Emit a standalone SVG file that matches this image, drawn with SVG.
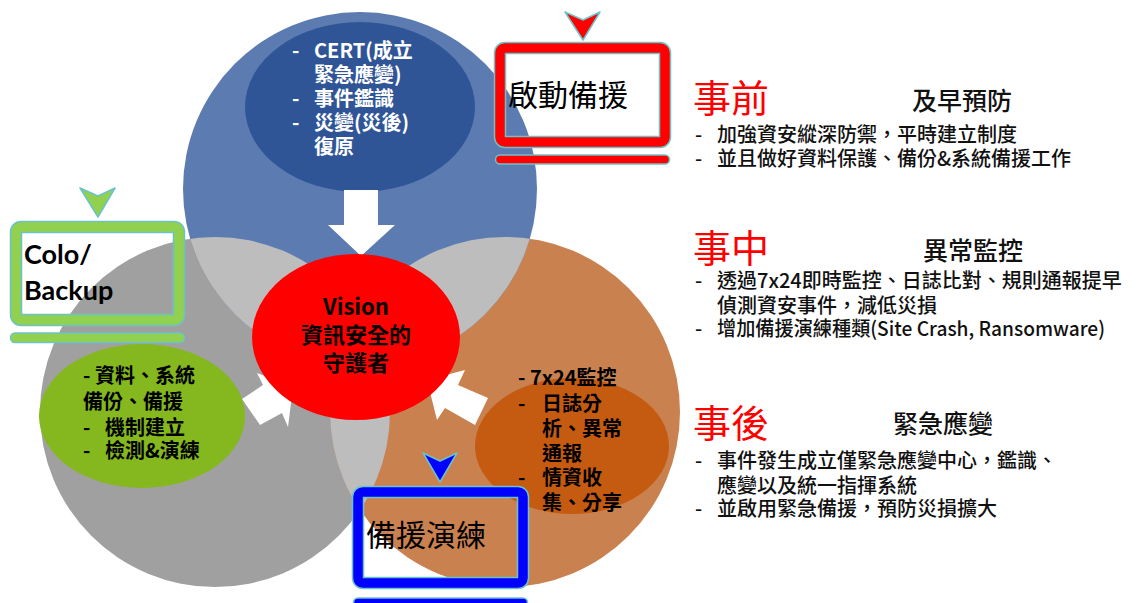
<svg xmlns="http://www.w3.org/2000/svg" width="1143" height="603" viewBox="0 0 1143 603" xml:lang="zh-TW" lang="zh-TW">
<style>
.cjk{font-family:"Noto Sans CJK TC","Noto Sans CJK SC",sans-serif;}
.et{font-family:"Noto Sans CJK TC","Noto Sans CJK SC",sans-serif;font-size:20px;font-weight:bold;}
.wt{fill:#ffffff;}
.bk{fill:#000000;}
.body{font-family:"Noto Sans CJK TC","Noto Sans CJK SC",sans-serif;font-size:20px;font-weight:500;fill:#111;}
.head{font-family:"Noto Sans CJK TC","Noto Sans CJK SC",sans-serif;font-size:38px;fill:#ff0000;}
.sub{font-family:"Noto Sans CJK TC","Noto Sans CJK SC",sans-serif;font-size:25px;font-weight:500;fill:#111;}
.frame-o{fill:none;stroke:#6cc3c6;stroke-width:12.5;}
.arrow{fill:#ffffff;}
.tri{stroke:#6cc3c6;stroke-width:1.5;stroke-linejoin:round;}
</style>
<defs>
<clipPath id="cBlue"><circle cx="360" cy="189" r="177"/></clipPath>
<clipPath id="cGrey"><circle cx="215" cy="412" r="175"/></clipPath>
</defs>
<rect x="0" y="0" width="1143" height="603" fill="#ffffff"/>
<g id="circle-grey"><circle cx="215" cy="412" r="175" fill="#a0a0a0"/></g>
<g id="circle-orange"><circle cx="505" cy="412" r="175" fill="#c98150"/></g>
<g id="circle-blue"><circle cx="360" cy="189" r="177" fill="#5c7bb1"/></g>
<g id="overlaps">
<circle cx="215" cy="412" r="175" fill="#bdbdbd" clip-path="url(#cBlue)"/>
<circle cx="505" cy="412" r="175" fill="#bdbdbd" clip-path="url(#cBlue)"/>
<circle cx="505" cy="412" r="175" fill="#bdbdbd" clip-path="url(#cGrey)"/>
</g>
<g id="node-top">
<ellipse cx="360" cy="107" rx="115" ry="85" fill="#2f5597"/>
<text class="et wt"><tspan x="292" y="58">-</tspan><tspan x="314" y="58">CERT(成立</tspan><tspan x="314" y="82">緊急應變)</tspan><tspan x="292" y="106">-</tspan><tspan x="314" y="106">事件鑑識</tspan><tspan x="292" y="130">-</tspan><tspan x="314" y="130">災變(災後)</tspan><tspan x="314" y="154">復原</tspan></text>
</g>
<g id="node-left">
<ellipse cx="142" cy="416" rx="103" ry="72" fill="#84b81e"/>
<text class="et bk"><tspan x="83" y="383">- 資料、系統</tspan><tspan x="83" y="409">備份、備援</tspan><tspan x="83" y="435">-</tspan><tspan x="105" y="435">機制建立</tspan><tspan x="83" y="458">-</tspan><tspan x="105" y="458">檢測&amp;演練</tspan></text>
</g>
<g id="node-right">
<ellipse cx="572" cy="446" rx="97" ry="68" fill="#c55a11"/>
<text class="et bk"><tspan x="518" y="385">- 7x24監控</tspan><tspan x="518" y="411">-</tspan><tspan x="542" y="411">日誌分</tspan><tspan x="542" y="436">析、異常</tspan><tspan x="542" y="461">通報</tspan><tspan x="518" y="485">-</tspan><tspan x="542" y="485">情資收</tspan><tspan x="542" y="510">集、分享</tspan></text>
</g>
<g id="connectors">
<polygon class="arrow" points="344,190 378,190 378,225 395,225 361,256 328,225 344,225"/>
<polygon class="arrow" points="242,399 263,385 257,373 293,387 288,427 282,413 260,425"/>
<polygon class="arrow" points="427,380 465,370 458,385 488,398 475,425 445,408 437,420"/>
</g>
<g id="node-center">
<ellipse cx="356" cy="337" rx="104" ry="83" fill="#ff0000"/>
<text class="cjk bk" font-size="22" font-weight="bold" text-anchor="middle"><tspan x="356" y="315">Vision</tspan><tspan x="356" y="343">資訊安全的</tspan><tspan x="356" y="371">守護者</tspan></text>
</g>
<g id="monitor-red">
<polygon class="tri" points="565,12 583,20 600,12 583,40" fill="#ff0000"/>
<rect class="frame-o" x="500" y="48" width="165" height="94" rx="5"/>
<rect x="500" y="48" width="165" height="94" rx="5" fill="none" stroke="#ff0000" stroke-width="9.5"/>
<rect x="495.5" y="155" width="174" height="9" rx="4.5" fill="#ff0000" stroke="#6cc3c6" stroke-width="1.5"/>
<text class="cjk" x="508" y="106" font-size="30" fill="#000">啟動備援</text>
</g>
<g id="monitor-green">
<polygon class="tri" points="80,188 98,196 115,188 98,217" fill="#92d050"/>
<rect class="frame-o" x="16" y="227" width="163" height="93" rx="5"/>
<rect x="16" y="227" width="163" height="93" rx="5" fill="none" stroke="#92d050" stroke-width="9.5"/>
<rect x="10.5" y="333" width="174" height="9.5" rx="4.5" fill="#92d050" stroke="#6cc3c6" stroke-width="1.5"/>
<text font-family="Lato, 'Noto Sans', sans-serif" font-weight="bold" font-size="27" fill="#000"><tspan x="24" y="264">Colo/</tspan><tspan x="24" y="300">Backup</tspan></text>
</g>
<g id="monitor-blue">
<polygon class="tri" points="423,453 440,461 457,453 440,482" fill="#0000ff"/>
<rect class="frame-o" x="358" y="492" width="165" height="91" rx="5"/>
<rect x="358" y="492" width="165" height="91" rx="5" fill="none" stroke="#0000ff" stroke-width="9.5"/>
<rect x="353.5" y="598" width="174" height="12" rx="4.5" fill="#0000ff" stroke="#6cc3c6" stroke-width="1.5"/>
<text class="cjk" x="366" y="546" font-size="30" fill="#000">備援演練</text>
</g>
<g id="text-before">
<text class="head" x="693" y="112">事前</text>
<text class="sub" x="912" y="110">及早預防</text>
<text class="body" x="695" y="142">-</text>
<text class="body" x="717" y="142">加強資安縱深防禦，平時建立制度</text>
<text class="body" x="695" y="166">-</text>
<text class="body" x="717" y="166">並且做好資料保護、備份&amp;系統備援工作</text>
</g>
<g id="text-during">
<text class="head" x="693" y="262">事中</text>
<text class="sub" x="923" y="260">異常監控</text>
<text class="body" x="695" y="288">-</text>
<text class="body" x="717" y="288">透過7x24即時監控、日誌比對、規則通報提早</text>
<text class="body" x="717" y="313">偵測資安事件，減低災損</text>
<text class="body" x="695" y="336">-</text>
<text class="body" x="717" y="336" textLength="388" lengthAdjust="spacingAndGlyphs">增加備援演練種類(Site Crash, Ransomware)</text>
</g>
<g id="text-after">
<text class="head" x="693" y="437">事後</text>
<text class="sub" x="893" y="433">緊急應變</text>
<text class="body" x="695" y="468">-</text>
<text class="body" x="717" y="468">事件發生成立僅緊急應變中心，鑑識、</text>
<text class="body" x="717" y="493">應變以及統一指揮系統</text>
<text class="body" x="695" y="516">-</text>
<text class="body" x="717" y="516">並啟用緊急備援，預防災損擴大</text>
</g>
</svg>
